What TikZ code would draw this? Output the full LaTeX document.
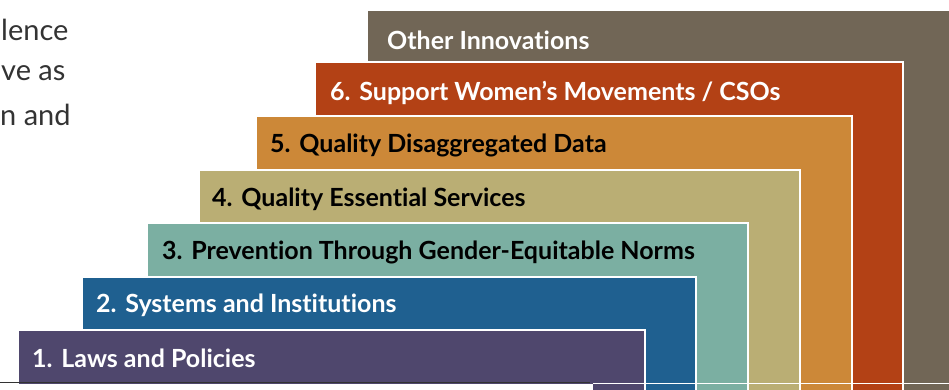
\documentclass[tikz,border=0pt]{standalone}
\usepackage{fontspec}
\setmainfont{Lato}[Ligatures=NoCommon]
\definecolor{innov}{HTML}{716656}
\definecolor{csos}{HTML}{B34115}
\definecolor{data}{HTML}{CC8838}
\definecolor{services}{HTML}{BAAE74}
\definecolor{norms}{HTML}{7BAFA2}
\definecolor{systems}{HTML}{1F6090}
\definecolor{laws}{HTML}{4F476D}
\definecolor{bodytext}{HTML}{333333}
\tikzset{
  layer/.style={draw=white, line width=1.2pt},
  steplabel/.style={anchor=west, inner sep=0pt, font=\fontsize{25}{29}\selectfont\bfseries},
  bodyline/.style={anchor=west, inner sep=0pt, text=bodytext, font=\fontsize{29}{33}\selectfont}
}
\begin{document}
\begin{tikzpicture}[x=1pt,y=-1pt]
  \clip (0,0) rectangle (949,389);
  % cut-off text of the page on the left
  \node[bodyline] (line1) at (1,30)  {lence};
  \node[bodyline] (line2) at (1,73)  {ve as};
  \node[bodyline] (line3) at (0,115) {n and};
  % the stair layers, from the back to the front
  \foreach \l/\t/\r/\c in {367/10/960/innov, 315/62/903/csos, 256/116/852/data,
                           199/170/800/services, 147/223/748/norms, 82/277/696/systems,
                           18/330/645/laws}
    \filldraw[layer, fill=\c] (\l,\t) rectangle (\r,400);
  % bottom edge of the first layer
  \fill[white] (-2,383.5) rectangle (593,392);
  \draw[white, line width=1pt] (593,383.5) -- (952,383.5);
  \draw[black!80, line width=1.2pt] (-2,382.6) -- (590,382.6);
  % labels of the layers
  \foreach \n/\x/\y/\tc/\txt in {0/387/40/white/{Other Innovations},
        6/330/93/white/{6.\hspace{0.35em}Support Women’s Movements / CSOs},
        5/270/145/black/{5.\hspace{0.35em}Quality Disaggregated Data},
        4/212/199/black/{4.\hspace{0.35em}Quality Essential Services},
        3/162/252/black/{3.\hspace{0.35em}Prevention Through Gender-Equitable Norms},
        2/96/305/white/{2.\hspace{0.35em}Systems and Institutions},
        1/32/358/white/{1.\hspace{0.35em}Laws and Policies}}
    \node[steplabel, text=\tc] (lab\n) at (\x,\y) {\txt};
\end{tikzpicture}
\end{document}
